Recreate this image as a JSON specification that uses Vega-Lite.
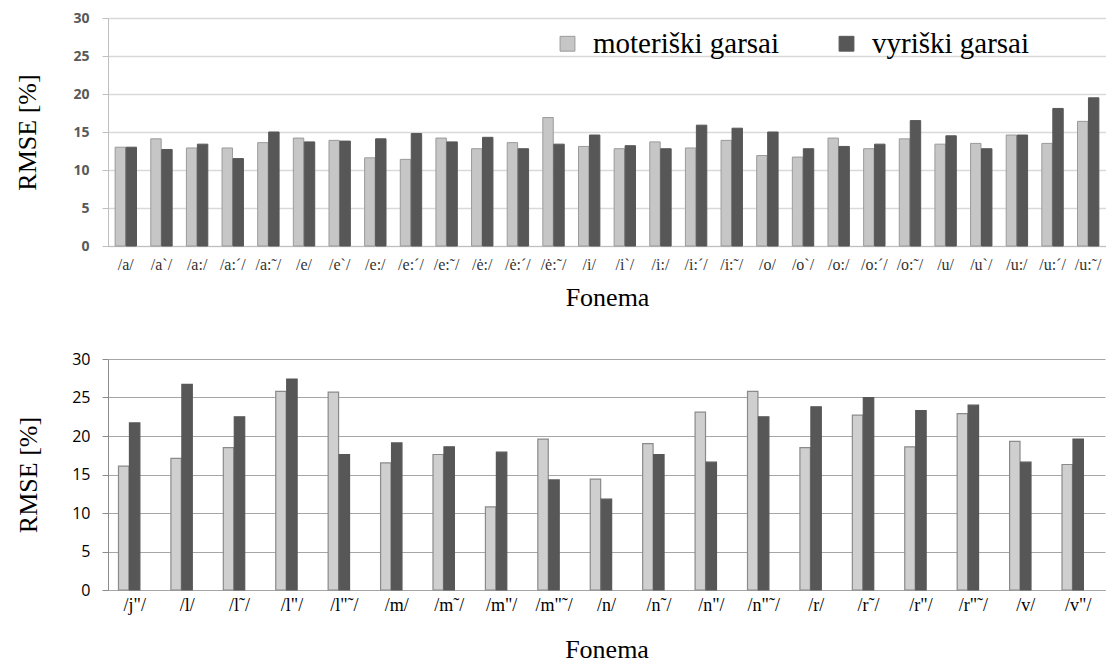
{
  "$schema": "https://vega.github.io/schema/vega-lite/v6.json",
  "padding": {"left": 14, "top": 11, "right": 0, "bottom": 0},
  "background": "white",
  "config": {"view": {"stroke": null}},
  "datasets": {
    "top": [
      {"f": "/a/", "g": "moteriški garsai", "v": 13.0}, {"f": "/a/", "g": "vyriški garsai", "v": 13.0},
      {"f": "/a`/", "g": "moteriški garsai", "v": 14.1}, {"f": "/a`/", "g": "vyriški garsai", "v": 12.7},
      {"f": "/a:/", "g": "moteriški garsai", "v": 12.9}, {"f": "/a:/", "g": "vyriški garsai", "v": 13.4},
      {"f": "/a:´/", "g": "moteriški garsai", "v": 12.9}, {"f": "/a:´/", "g": "vyriški garsai", "v": 11.5},
      {"f": "/a:˜/", "g": "moteriški garsai", "v": 13.6}, {"f": "/a:˜/", "g": "vyriški garsai", "v": 15.0},
      {"f": "/e/", "g": "moteriški garsai", "v": 14.2}, {"f": "/e/", "g": "vyriški garsai", "v": 13.7},
      {"f": "/e`/", "g": "moteriški garsai", "v": 13.9}, {"f": "/e`/", "g": "vyriški garsai", "v": 13.8},
      {"f": "/e:/", "g": "moteriški garsai", "v": 11.6}, {"f": "/e:/", "g": "vyriški garsai", "v": 14.1},
      {"f": "/e:´/", "g": "moteriški garsai", "v": 11.4}, {"f": "/e:´/", "g": "vyriški garsai", "v": 14.8},
      {"f": "/e:˜/", "g": "moteriški garsai", "v": 14.2}, {"f": "/e:˜/", "g": "vyriški garsai", "v": 13.7},
      {"f": "/ė:/", "g": "moteriški garsai", "v": 12.8}, {"f": "/ė:/", "g": "vyriški garsai", "v": 14.3},
      {"f": "/ė:´/", "g": "moteriški garsai", "v": 13.6}, {"f": "/ė:´/", "g": "vyriški garsai", "v": 12.8},
      {"f": "/ė:˜/", "g": "moteriški garsai", "v": 16.9}, {"f": "/ė:˜/", "g": "vyriški garsai", "v": 13.4},
      {"f": "/i/", "g": "moteriški garsai", "v": 13.1}, {"f": "/i/", "g": "vyriški garsai", "v": 14.6},
      {"f": "/i`/", "g": "moteriški garsai", "v": 12.8}, {"f": "/i`/", "g": "vyriški garsai", "v": 13.2},
      {"f": "/i:/", "g": "moteriški garsai", "v": 13.7}, {"f": "/i:/", "g": "vyriški garsai", "v": 12.8},
      {"f": "/i:´/", "g": "moteriški garsai", "v": 12.9}, {"f": "/i:´/", "g": "vyriški garsai", "v": 15.9},
      {"f": "/i:˜/", "g": "moteriški garsai", "v": 13.9}, {"f": "/i:˜/", "g": "vyriški garsai", "v": 15.5},
      {"f": "/o/", "g": "moteriški garsai", "v": 11.9}, {"f": "/o/", "g": "vyriški garsai", "v": 15.0},
      {"f": "/o`/", "g": "moteriški garsai", "v": 11.7}, {"f": "/o`/", "g": "vyriški garsai", "v": 12.8},
      {"f": "/o:/", "g": "moteriški garsai", "v": 14.2}, {"f": "/o:/", "g": "vyriški garsai", "v": 13.1},
      {"f": "/o:´/", "g": "moteriški garsai", "v": 12.8}, {"f": "/o:´/", "g": "vyriški garsai", "v": 13.4},
      {"f": "/o:˜/", "g": "moteriški garsai", "v": 14.1}, {"f": "/o:˜/", "g": "vyriški garsai", "v": 16.5},
      {"f": "/u/", "g": "moteriški garsai", "v": 13.4}, {"f": "/u/", "g": "vyriški garsai", "v": 14.5},
      {"f": "/u`/", "g": "moteriški garsai", "v": 13.5}, {"f": "/u`/", "g": "vyriški garsai", "v": 12.8},
      {"f": "/u:/", "g": "moteriški garsai", "v": 14.6}, {"f": "/u:/", "g": "vyriški garsai", "v": 14.6},
      {"f": "/u:´/", "g": "moteriški garsai", "v": 13.5}, {"f": "/u:´/", "g": "vyriški garsai", "v": 18.1},
      {"f": "/u:˜/", "g": "moteriški garsai", "v": 16.4}, {"f": "/u:˜/", "g": "vyriški garsai", "v": 19.5}
    ],
    "bottom": [
      {"f": "/j\"/", "g": "moteriški garsai", "v": 16.1}, {"f": "/j\"/", "g": "vyriški garsai", "v": 21.7},
      {"f": "/l/", "g": "moteriški garsai", "v": 17.1}, {"f": "/l/", "g": "vyriški garsai", "v": 26.7},
      {"f": "/l˜/", "g": "moteriški garsai", "v": 18.5}, {"f": "/l˜/", "g": "vyriški garsai", "v": 22.5},
      {"f": "/l\"/", "g": "moteriški garsai", "v": 25.8}, {"f": "/l\"/", "g": "vyriški garsai", "v": 27.4},
      {"f": "/l\"˜/", "g": "moteriški garsai", "v": 25.7}, {"f": "/l\"˜/", "g": "vyriški garsai", "v": 17.6},
      {"f": "/m/", "g": "moteriški garsai", "v": 16.5}, {"f": "/m/", "g": "vyriški garsai", "v": 19.1},
      {"f": "/m˜/", "g": "moteriški garsai", "v": 17.6}, {"f": "/m˜/", "g": "vyriški garsai", "v": 18.6},
      {"f": "/m\"/", "g": "moteriški garsai", "v": 10.8}, {"f": "/m\"/", "g": "vyriški garsai", "v": 17.9},
      {"f": "/m\"˜/", "g": "moteriški garsai", "v": 19.6}, {"f": "/m\"˜/", "g": "vyriški garsai", "v": 14.3},
      {"f": "/n/", "g": "moteriški garsai", "v": 14.4}, {"f": "/n/", "g": "vyriški garsai", "v": 11.8},
      {"f": "/n˜/", "g": "moteriški garsai", "v": 19.0}, {"f": "/n˜/", "g": "vyriški garsai", "v": 17.6},
      {"f": "/n\"/", "g": "moteriški garsai", "v": 23.1}, {"f": "/n\"/", "g": "vyriški garsai", "v": 16.6},
      {"f": "/n\"˜/", "g": "moteriški garsai", "v": 25.8}, {"f": "/n\"˜/", "g": "vyriški garsai", "v": 22.5},
      {"f": "/r/", "g": "moteriški garsai", "v": 18.5}, {"f": "/r/", "g": "vyriški garsai", "v": 23.8},
      {"f": "/r˜/", "g": "moteriški garsai", "v": 22.7}, {"f": "/r˜/", "g": "vyriški garsai", "v": 25.0},
      {"f": "/r\"/", "g": "moteriški garsai", "v": 18.6}, {"f": "/r\"/", "g": "vyriški garsai", "v": 23.3},
      {"f": "/r\"˜/", "g": "moteriški garsai", "v": 22.9}, {"f": "/r\"˜/", "g": "vyriški garsai", "v": 24.0},
      {"f": "/v/", "g": "moteriški garsai", "v": 19.3}, {"f": "/v/", "g": "vyriški garsai", "v": 16.6},
      {"f": "/v\"/", "g": "moteriški garsai", "v": 16.3}, {"f": "/v\"/", "g": "vyriški garsai", "v": 19.6}
    ]
  },
  "resolve": {"scale": {"color": "independent", "stroke": "independent", "x": "independent", "y": "independent"}},
  "spacing": 41,
  "vconcat": [
    {
      "width": 998,
      "height": 228,
      "data": {"name": "top"},
      "mark": {"type": "bar", "strokeWidth": 1},
      "encoding": {
        "x": {
          "field": "f", "type": "nominal", "sort": null,
          "scale": {"paddingInner": 0.4, "paddingOuter": 0.2},
          "axis": {
            "title": "Fonema", "titleFont": "Liberation Serif", "titleFontSize": 26, "titleFontWeight": "normal",
            "titleColor": "black", "titlePadding": 12,
            "labelFont": "Liberation Serif", "labelFontSize": 16, "labelColor": "#333333", "labelAngle": 0,
            "labelPadding": 10, "ticks": false, "domainColor": "#bfbfbf", "labelOverlap": false
          }
        },
        "xOffset": {"field": "g", "type": "nominal", "scale": {"paddingInner": 0.05}},
        "y": {
          "field": "v", "type": "quantitative",
          "scale": {"domain": [0, 30], "nice": false},
          "axis": {
            "title": "RMSE [%]", "titleFont": "Liberation Serif", "titleFontSize": 26, "titleFontWeight": "normal",
            "titleColor": "black", "titlePadding": 32,
            "values": [0, 5, 10, 15, 20, 25, 30],
            "labelFont": "Open Sans", "labelFontSize": 14, "labelFontWeight": "bold", "labelColor": "#595959",
            "labelPadding": 13, "tickSize": 6, "tickColor": "#bfbfbf", "domainColor": "#bfbfbf",
            "gridColor": "#d9d9d9", "gridWidth": 1.5
          }
        },
        "color": {
          "field": "g", "type": "nominal",
          "scale": {"range": ["#c6c6c6", "#575757"]},
          "legend": {
            "title": null, "orient": "none", "direction": "horizontal", "legendX": 445, "legendY": 11,
            "symbolType": "square", "symbolSize": 220, "symbolStrokeWidth": 1, "symbolStrokeColor": "#9a9a9a",
            "labelFont": "Liberation Serif", "labelFontSize": 29, "labelColor": "black",
            "columnPadding": 52, "labelOffset": 11, "labelLimit": 400
          }
        },
        "stroke": {
          "field": "g", "type": "nominal",
          "scale": {"range": ["#9a9a9a", "#575757"]},
          "legend": null
        }
      }
    },
    {
      "width": 997,
      "height": 231,
      "data": {"name": "bottom"},
      "mark": {"type": "bar", "strokeWidth": 1.2},
      "encoding": {
        "x": {
          "field": "f", "type": "nominal", "sort": null,
          "scale": {"paddingInner": 0.38, "paddingOuter": 0.2},
          "axis": {
            "title": "Fonema", "titleFont": "Liberation Serif", "titleFontSize": 26, "titleFontWeight": "normal",
            "titleColor": "black", "titlePadding": 22,
            "labelFont": "Liberation Serif", "labelFontSize": 18, "labelColor": "black", "labelAngle": 0,
            "labelPadding": 6, "ticks": false, "domainColor": "#a6a6a6", "labelOverlap": false
          }
        },
        "xOffset": {"field": "g", "type": "nominal", "scale": {"paddingInner": 0.25}},
        "y": {
          "field": "v", "type": "quantitative",
          "scale": {"domain": [0, 30], "nice": false},
          "axis": {
            "title": "RMSE [%]", "titleFont": "Liberation Serif", "titleFontSize": 26, "titleFontWeight": "normal",
            "titleColor": "black", "titlePadding": 30,
            "values": [0, 5, 10, 15, 20, 25, 30],
            "labelFont": "Open Sans", "labelFontSize": 16, "labelColor": "black",
            "labelPadding": 12, "tickSize": 6, "tickColor": "#8c8c8c", "domainColor": "#8c8c8c",
            "gridColor": "#a6a6a6", "gridWidth": 1
          }
        },
        "color": {
          "field": "g", "type": "nominal",
          "scale": {"range": ["#cfcfcf", "#575757"]},
          "legend": null
        },
        "stroke": {
          "field": "g", "type": "nominal",
          "scale": {"range": ["#8a8a8a", "#575757"]},
          "legend": null
        }
      }
    }
  ]
}
